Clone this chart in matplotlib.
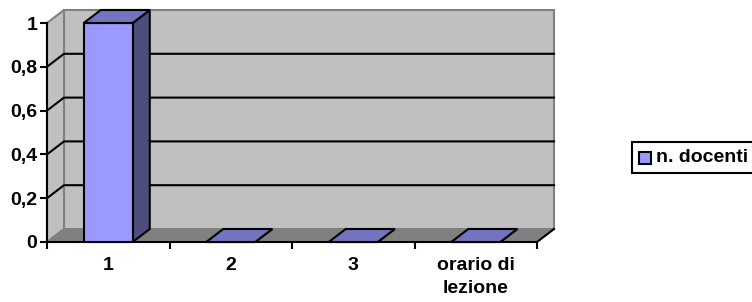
import matplotlib.pyplot as plt
from matplotlib.patches import Polygon, Rectangle

# Data
categories = ['1', '2', '3', 'orario di\nlezione']
values = [1, 0, 0, 0]
series_name = 'n. docenti'
yticks = [0, 0.2, 0.4, 0.6, 0.8, 1]

plt.rcParams['font.family'] = ['Liberation Sans', 'DejaVu Sans']
plt.rcParams['font.weight'] = 'bold'

W, H = 752, 302
fig = plt.figure(figsize=(W / 100, H / 100), dpi=100)
ax = fig.add_axes([47 / W, 1 - 242 / H, 490 / W, 219 / H])
ax.set_xlim(-0.5, len(categories) - 0.5)
ax.set_ylim(0, 1)
ax.patch.set_visible(False)
for s in ax.spines.values():
    s.set_visible(False)

# depth offset in data units
dx = 17 / 122.5
dy = 13 / 219
x0, x1 = -0.5, len(categories) - 0.5

wall = '#C0C0C0'
edge = '#808080'
# back wall
ax.add_patch(Polygon([(x0 + dx, dy), (x1 + dx, dy), (x1 + dx, 1 + dy), (x0 + dx, 1 + dy)],
                     facecolor=wall, edgecolor=edge, lw=1.5, clip_on=False, zorder=1))
# side wall
ax.add_patch(Polygon([(x0, 0), (x0, 1), (x0 + dx, 1 + dy), (x0 + dx, dy)],
                     facecolor=wall, edgecolor=edge, lw=1.5, clip_on=False, zorder=1))
# floor
ax.add_patch(Polygon([(x0, 0), (x1, 0), (x1 + dx, dy), (x0 + dx, dy)],
                     facecolor='#808080', edgecolor='#808080', lw=1, clip_on=False, zorder=1))
ax.plot([x0, x1, x1 + dx], [0, 0, dy], color='black', lw=1.5, clip_on=False, zorder=2)

# gridlines
for v in yticks[1:-1]:
    ax.plot([x0, x0 + dx, x1 + dx], [v, v + dy, v + dy], color='black', lw=1.5,
            clip_on=False, zorder=2)

# bars
w = 0.4
for i, v in enumerate(values):
    l, r = i - w / 2, i + w / 2
    front = [(l, 0), (r, 0), (r, v), (l, v)]
    side = [(r, 0), (r + dx, dy), (r + dx, v + dy), (r, v)]
    top = [(l, v), (r, v), (r + dx, v + dy), (l + dx, v + dy)]
    ax.add_patch(Polygon(side, facecolor='#4D4D80', edgecolor='black', lw=1.5,
                         clip_on=False, zorder=3))
    ax.add_patch(Polygon(front, facecolor='#9999FF', edgecolor='black', lw=1.5,
                         clip_on=False, zorder=3))
    ax.add_patch(Polygon(top, facecolor='#7373C0', edgecolor='black', lw=1.5,
                         clip_on=False, zorder=3))

# y axis line
ax.plot([x0, x0], [0, 1], color='black', lw=1.5, clip_on=False, zorder=4)

ax.set_yticks(yticks)
ax.set_yticklabels([('%g' % t).replace('.', ',') for t in yticks], fontsize=14, fontweight='bold')
ax.set_xticks([i - 0.5 for i in range(len(categories) + 1)])
ax.set_xticklabels([])
ax.set_xticks(range(len(categories)), minor=True)
ax.set_xticklabels(categories, minor=True, fontsize=14, fontweight='bold', linespacing=1.45)
ax.tick_params(axis='y', direction='out', length=5, width=1.5, pad=2)
ax.tick_params(axis='x', which='major', direction='out', length=5, width=1.5)
ax.tick_params(axis='x', which='minor', length=0, pad=11)

# legend (drawn by hand, partly cut off at the right edge like the original)
fig.add_artist(Rectangle((632 / W, 1 - 173 / H), 140 / W, 31 / H, transform=fig.transFigure,
                         facecolor='white', edgecolor='black', lw=1.5, clip_on=False))
fig.add_artist(Rectangle((639 / W, 1 - 164 / H), 12 / W, 12 / H, transform=fig.transFigure,
                         facecolor='#9999FF', edgecolor='black', lw=1.5))
fig.text(656 / W, 1 - 158 / H, series_name, fontsize=14, fontweight='bold',
         ha='left', va='center')

plt.savefig('out.png', dpi=100)
